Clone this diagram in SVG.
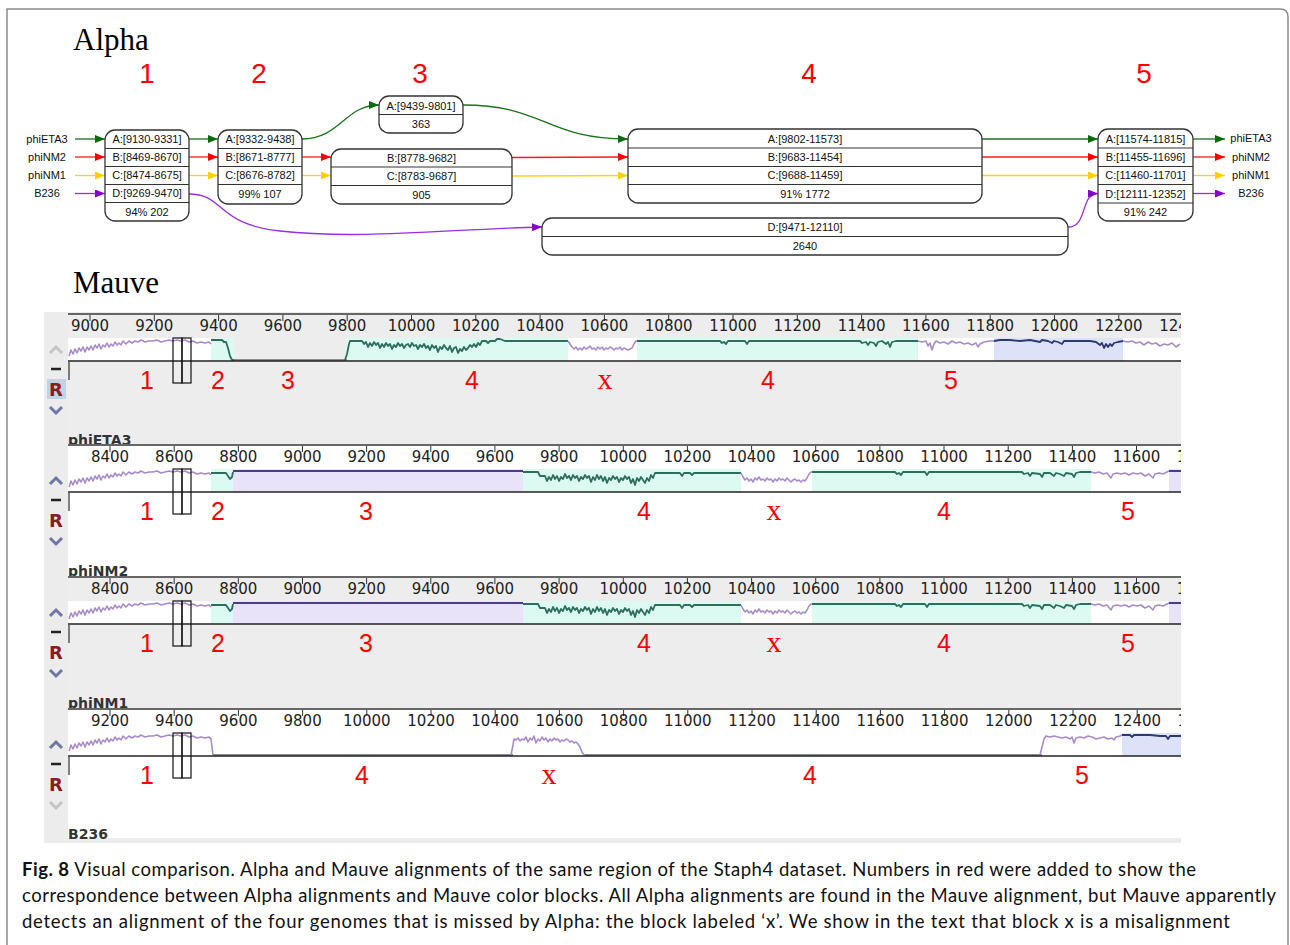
<svg xmlns="http://www.w3.org/2000/svg" xmlns:xlink="http://www.w3.org/1999/xlink" width="1290" height="945" viewBox="0 0 1290 945">
<style>
.nb{fill:#fff;stroke:#333;stroke-width:1.3}
.rl{stroke:#333;stroke-width:1}
.nt{font-family:"Liberation Sans",Arial,sans-serif;font-size:11px;text-anchor:middle;fill:#111}
.lb{font-family:"Liberation Sans",Arial,sans-serif;font-size:11px;text-anchor:middle;fill:#111}
.cg{stroke:#177317;stroke-width:1.3;fill:none}
.cr{stroke:#ff1a1a;stroke-width:1.3;fill:none}
.cy{stroke:#ffd21a;stroke-width:1.3;fill:none}
.cp{stroke:#9a2ee0;stroke-width:1.3;fill:none}
.ttl{font-family:"Liberation Serif","Times New Roman",serif;font-size:31px;fill:#000}
.rn{font-family:"Liberation Sans",Arial,sans-serif;font-size:28px;fill:#ff0000;text-anchor:middle}
.mn{font-family:"Liberation Sans",Arial,sans-serif;font-size:25px;fill:#ff0000;text-anchor:middle}
.mx{font-family:"Liberation Serif","Times New Roman",serif;font-size:30px;fill:#ff0000;text-anchor:middle}
.ru{font-family:"DejaVu Sans",sans-serif;font-size:15px;fill:#222;text-anchor:middle}
.tk{stroke:#333;stroke-width:1;fill:none}
.tl{stroke:#666;stroke-width:2}
.cl{stroke:#222;stroke-width:1.5}
.tp{fill:none;stroke:#a98bcb;stroke-width:1.6;stroke-linejoin:round}
.tg{fill:none;stroke:#2e6e5e;stroke-width:1.8;stroke-linejoin:round}
.tn{fill:none;stroke:#2c3a72;stroke-width:1.8;stroke-linejoin:round}
.tv{fill:none;stroke:#4a3d8a;stroke-width:2}
.gap{stroke:#8c8c8c;stroke-width:2}
.bx{fill:none;stroke:#111;stroke-width:1.2}
.cyan{fill:#dcfaf2}
.lav{fill:#e9e3fa}
.blu{fill:#dde2f8}
.wht{fill:#fff}
.chv{fill:none;stroke:#7076a3;stroke-width:3;stroke-linejoin:miter}
.chd{fill:none;stroke:#c4c4c4;stroke-width:3}
.dash{stroke:#222;stroke-width:2.5}
.R{font-family:"DejaVu Sans",sans-serif;font-weight:bold;font-size:18px;fill:#8b1c1c;text-anchor:middle}
.nm{font-family:"DejaVu Sans",sans-serif;font-weight:bold;font-size:14px;fill:#333}
.cap{font-family:Lato,"Open Sans",sans-serif;font-size:18.5px;fill:#111}
</style>
<defs>
<marker id="ag" viewBox="0 0 10 8" refX="10" refY="4" markerWidth="10" markerHeight="8" markerUnits="userSpaceOnUse" orient="auto"><path d="M0,0L10,4L0,8z" fill="#0b6b0b"/></marker>
<marker id="ar" viewBox="0 0 10 8" refX="10" refY="4" markerWidth="10" markerHeight="8" markerUnits="userSpaceOnUse" orient="auto"><path d="M0,0L10,4L0,8z" fill="#ff0000"/></marker>
<marker id="ay" viewBox="0 0 10 8" refX="10" refY="4" markerWidth="10" markerHeight="8" markerUnits="userSpaceOnUse" orient="auto"><path d="M0,0L10,4L0,8z" fill="#ffd000"/></marker>
<marker id="ap" viewBox="0 0 10 8" refX="10" refY="4" markerWidth="10" markerHeight="8" markerUnits="userSpaceOnUse" orient="auto"><path d="M0,0L10,4L0,8z" fill="#8800cc"/></marker>
<clipPath id="pc"><rect x="44" y="312" width="1137" height="531"/></clipPath>
<polyline id="p1" points="69,42 71,36 73,40 75,35 77,39 79,34 81,37 83,33 85,38 87,33 89,36 91,32 93,36 95,31 97,34 99,30 101,35 103,31 105,33 107,29 109,33 111,30 113,32 115,28 117,31 119,29 121,31 123,27 126,30 129,27 132,29 135,27 138,28 141,26 145,28 149,27 153,27 157,26 161,28 165,27 169,26 173,27 177,26 181,27 185,26 189,28 193,27 197,29 201,28 205,29 209,28 211,30"/>
<g id="leftcol">
<rect x="44" y="0" width="24" height="132" fill="#ececec"/>
<line x1="51" y1="55" x2="61" y2="55" class="dash"/>
</g>
<g id="boxes">
<rect x="173" y="24" width="9" height="45" class="bx"/>
<rect x="182" y="24" width="9" height="45" class="bx"/>
</g>
<g id="nmContent">
<use xlink:href="#leftcol"/>
<polyline points="50,39 56,33 62,39" class="chv"/>
<polyline points="50,93 56,99 62,93" class="chv"/>
<text x="56" y="82" class="R">R</text>
<path class="tk" d="M110,0v7M174.2,0v7M238.3,0v7M302.5,0v7M366.6,0v7M430.8,0v7M494.9,0v7M559.1,0v7M623.3,0v7M687.4,0v7M751.6,0v7M815.7,0v7M879.9,0v7M944,0v7M1008.2,0v7M1072.4,0v7M1136.5,0v7"/>
<g class="ru">
<text x="110" y="17">8400</text><text x="174.2" y="17">8600</text><text x="238.3" y="17">8800</text><text x="302.5" y="17">9000</text><text x="366.6" y="17">9200</text><text x="430.8" y="17">9400</text><text x="494.9" y="17">9600</text><text x="559.1" y="17">9800</text><text x="623.3" y="17">10000</text><text x="687.4" y="17">10200</text><text x="751.6" y="17">10400</text><text x="815.7" y="17">10600</text><text x="879.9" y="17">10800</text><text x="944" y="17">11000</text><text x="1008.2" y="17">11200</text><text x="1072.4" y="17">11400</text><text x="1136.5" y="17">11600</text><text x="1200.7" y="17">11800</text>
</g>
<rect x="68" y="24" width="143" height="23" class="wht"/>
<rect x="211" y="24" width="22" height="23" class="cyan"/>
<rect x="233" y="24" width="290" height="23" class="lav"/>
<rect x="523" y="24" width="218" height="23" class="cyan"/>
<rect x="741" y="24" width="71" height="23" class="wht"/>
<rect x="812" y="24" width="279" height="23" class="cyan"/>
<rect x="1091" y="24" width="78" height="23" class="wht"/>
<rect x="1169" y="24" width="12" height="23" class="lav"/>
<use xlink:href="#p1" class="tp"/>
<polyline class="tg" points="211,28 226,28 228,31 230,34 232,32 233,27"/>
<line x1="233" y1="26" x2="523" y2="26" class="tv"/>
<polyline class="tg" points="523,27 538,27 540,31 545,31 547,36 549,32 551,35 553,30 555,34 557,31 559,36 561,32 563,34 565,29 567,33 569,31 571,35 573,30 575,33 577,31 579,36 581,32 583,34 585,30 587,33 589,31 591,37 593,32 595,35 597,30 599,34 601,31 603,36 605,32 607,38 609,33 611,35 613,31 615,34 617,32 619,37 621,33 623,35 625,31 627,34 629,32 631,38 633,34 635,40 637,33 639,36 641,32 643,35 645,38 647,33 649,36 651,30 653,33 655,28 680,28 682,31 684,28 690,28 692,30 694,28 741,28"/>
<polyline class="tp" points="741,28 743,32 745,35 747,33 749,36 751,34 753,37 755,33 757,35 759,32 761,35 763,34 765,36 767,33 769,35 771,34 773,37 775,34 777,36 779,33 781,35 783,34 785,36 787,33 789,35 791,37 793,35 795,34 797,36 799,35 801,37 803,35 805,36 807,33 809,29 811,27 812,27"/>
<polyline class="tg" points="812,27 895,27 897,29 899,28 901,30 903,27 925,27 927,30 929,27 1022,27 1024,29 1028,28 1030,31 1032,28 1040,29 1042,32 1044,28 1050,28 1054,31 1056,28 1060,29 1064,31 1066,28 1072,29 1074,32 1076,28 1080,27 1091,27"/>
<polyline class="tp" points="1091,27 1095,28 1099,27 1103,29 1107,28 1111,33 1113,29 1117,28 1121,29 1125,28 1129,30 1133,28 1137,29 1141,28 1145,31 1149,29 1153,33 1155,29 1159,28 1163,29 1167,27 1169,26"/>
<line x1="1169" y1="26" x2="1181" y2="26" class="tv"/>
<line x1="68" y1="0" x2="1181" y2="0" class="tl"/>
<line x1="68" y1="47" x2="1181" y2="47" class="cl"/>
<line x1="69" y1="47" x2="69" y2="66" stroke="#555" stroke-width="1.5"/>
<use xlink:href="#boxes"/>
<text x="147" y="75" class="mn">1</text><text x="218" y="75" class="mn">2</text><text x="366" y="75" class="mn">3</text><text x="644" y="75" class="mn">4</text><text x="774" y="75" class="mx">x</text><text x="944" y="75" class="mn">4</text><text x="1128" y="75" class="mn">5</text>
</g>
</defs>

<rect x="0" y="0" width="1290" height="945" fill="#fff"/>
<path d="M7,945V9H1280Q1288,9 1288,17V945" fill="none" stroke="#8a8a8a" stroke-width="1.5"/>

<g id="alpha">
<text x="73" y="50" class="ttl">Alpha</text>
<text x="147" y="83" class="rn">1</text>
<text x="259" y="83" class="rn">2</text>
<text x="420" y="83" class="rn">3</text>
<text x="809" y="83" class="rn">4</text>
<text x="1144" y="83" class="rn">5</text>

<g id="labels-in">
<text x="47" y="143" class="lb">phiETA3</text>
<text x="47" y="161" class="lb">phiNM2</text>
<text x="47" y="179" class="lb">phiNM1</text>
<text x="47" y="197" class="lb">B236</text>
</g>
<g id="labels-out">
<text x="1251" y="142" class="lb">phiETA3</text>
<text x="1251" y="161" class="lb">phiNM2</text>
<text x="1251" y="179" class="lb">phiNM1</text>
<text x="1251" y="197" class="lb">B236</text>
</g>

<g id="connectors">
<path class="cg" d="M75,139H105" marker-end="url(#ag)"/>
<path class="cr" d="M75,157H105" marker-end="url(#ar)"/>
<path class="cy" d="M75,175.5H105" marker-end="url(#ay)"/>
<path class="cp" d="M75,193.5H105" marker-end="url(#ap)"/>
<path class="cg" d="M189,139H218" marker-end="url(#ag)"/>
<path class="cr" d="M189,157H218" marker-end="url(#ar)"/>
<path class="cy" d="M189,175.5H218" marker-end="url(#ay)"/>
<path class="cp" d="M189,194C225,194 215,224 280,231C360,240 450,229 542,227" marker-end="url(#ap)"/>
<path class="cg" d="M302,139C340,139 345,105 379,105" marker-end="url(#ag)"/>
<path class="cr" d="M302,157H331" marker-end="url(#ar)"/>
<path class="cy" d="M302,175.5H331" marker-end="url(#ay)"/>
<path class="cg" d="M463,105C545,105 545,139 628,139" marker-end="url(#ag)"/>
<path class="cr" d="M512,157.5L628,157" marker-end="url(#ar)"/>
<path class="cy" d="M512,176L628,175.5" marker-end="url(#ay)"/>
<path class="cg" d="M982,139H1098" marker-end="url(#ag)"/>
<path class="cr" d="M982,157H1098" marker-end="url(#ar)"/>
<path class="cy" d="M982,175.5H1098" marker-end="url(#ay)"/>
<path class="cp" d="M1068,227C1088,227 1080,193.5 1098,193.5" marker-end="url(#ap)"/>
<path class="cg" d="M1193,139H1225" marker-end="url(#ag)"/>
<path class="cr" d="M1193,157H1225" marker-end="url(#ar)"/>
<path class="cy" d="M1193,175.5H1225" marker-end="url(#ay)"/>
<path class="cp" d="M1193,193.5H1225" marker-end="url(#ap)"/>
</g>

<g id="node-1">
<rect x="105" y="130" width="84" height="91" rx="10" class="nb"/>
<path class="rl" d="M105,148.5H189M105,166.5H189M105,184.5H189M105,202.5H189"/>
<text x="147" y="143" class="nt">A:[9130-9331]</text>
<text x="147" y="161" class="nt">B:[8469-8670]</text>
<text x="147" y="179" class="nt">C:[8474-8675]</text>
<text x="147" y="197" class="nt">D:[9269-9470]</text>
<text x="147" y="216" class="nt">94% 202</text>
</g>
<g id="node-2">
<rect x="218" y="130" width="84" height="74" rx="10" class="nb"/>
<path class="rl" d="M218,148.5H302M218,166.5H302M218,184.5H302"/>
<text x="260" y="143" class="nt">A:[9332-9438]</text>
<text x="260" y="161" class="nt">B:[8671-8777]</text>
<text x="260" y="179" class="nt">C:[8676-8782]</text>
<text x="260" y="198" class="nt">99% 107</text>
</g>
<g id="node-3">
<rect x="379" y="96" width="84" height="37" rx="10" class="nb"/>
<path class="rl" d="M379,114.5H463"/>
<text x="421" y="109.5" class="nt">A:[9439-9801]</text>
<text x="421" y="128" class="nt">363</text>
</g>
<g id="node-3bc">
<rect x="331" y="149" width="181" height="55" rx="10" class="nb"/>
<path class="rl" d="M331,167H512M331,185.5H512"/>
<text x="421.5" y="162" class="nt">B:[8778-9682]</text>
<text x="421.5" y="180" class="nt">C:[8783-9687]</text>
<text x="421.5" y="199" class="nt">905</text>
</g>
<g id="node-4">
<rect x="628" y="129" width="354" height="74" rx="10" class="nb"/>
<path class="rl" d="M628,148H982M628,166.5H982M628,184.5H982"/>
<text x="805" y="142.5" class="nt">A:[9802-11573]</text>
<text x="805" y="161" class="nt">B:[9683-11454]</text>
<text x="805" y="179" class="nt">C:[9688-11459]</text>
<text x="805" y="197.5" class="nt">91% 1772</text>
</g>
<g id="node-4d">
<rect x="542" y="218" width="526" height="37" rx="10" class="nb"/>
<path class="rl" d="M542,236.5H1068"/>
<text x="805" y="231" class="nt">D:[9471-12110]</text>
<text x="805" y="249.5" class="nt">2640</text>
</g>
<g id="node-5">
<rect x="1098" y="129" width="95" height="92" rx="10" class="nb"/>
<path class="rl" d="M1098,148H1193M1098,166.5H1193M1098,184.5H1193M1098,203H1193"/>
<text x="1145.5" y="142.5" class="nt">A:[11574-11815]</text>
<text x="1145.5" y="161" class="nt">B:[11455-11696]</text>
<text x="1145.5" y="179" class="nt">C:[11460-11701]</text>
<text x="1145.5" y="197.5" class="nt">D:[12111-12352]</text>
<text x="1145.5" y="216" class="nt">91% 242</text>
</g>
</g>

<g id="mauve">
<text x="73" y="293" class="ttl">Mauve</text>
<g clip-path="url(#pc)">
<rect x="44" y="312" width="1137" height="531" fill="#ececec"/>

<g id="track-phiETA3" transform="translate(0,314)">
<rect x="44" y="0" width="1137" height="132" fill="#ededed"/>
<use xlink:href="#leftcol"/>
<rect x="47" y="65" width="19" height="20" fill="#c3d3e6"/>
<polyline points="50,39 56,33 62,39" class="chd"/>
<polyline points="50,93 56,99 62,93" class="chv"/>
<text x="56" y="82" class="R">R</text>
<path class="tk" d="M90,0v7M154.3,0v7M218.6,0v7M282.9,0v7M347.2,0v7M411.5,0v7M475.8,0v7M540.1,0v7M604.4,0v7M668.7,0v7M733,0v7M797.3,0v7M861.6,0v7M925.9,0v7M990.2,0v7M1054.5,0v7M1118.8,0v7"/>
<g class="ru">
<text x="90" y="17">9000</text><text x="154.3" y="17">9200</text><text x="218.6" y="17">9400</text><text x="282.9" y="17">9600</text><text x="347.2" y="17">9800</text><text x="411.5" y="17">10000</text><text x="475.8" y="17">10200</text><text x="540.1" y="17">10400</text><text x="604.4" y="17">10600</text><text x="668.7" y="17">10800</text><text x="733" y="17">11000</text><text x="797.3" y="17">11200</text><text x="861.6" y="17">11400</text><text x="925.9" y="17">11600</text><text x="990.2" y="17">11800</text><text x="1054.5" y="17">12000</text><text x="1118.8" y="17">12200</text><text x="1183.1" y="17">12400</text>
</g>
<rect x="68" y="24" width="143" height="23" class="wht"/>
<rect x="211" y="24" width="23" height="23" class="cyan"/>
<rect x="347" y="24" width="221" height="23" class="cyan"/>
<rect x="568" y="24" width="69" height="23" class="wht"/>
<rect x="637" y="24" width="281" height="23" class="cyan"/>
<rect x="918" y="24" width="76" height="23" class="wht"/>
<rect x="994" y="24" width="129" height="23" class="blu"/>
<rect x="1123" y="24" width="58" height="23" class="wht"/>
<use xlink:href="#p1" class="tp"/>
<polyline class="tg" points="211,26 222,26 224,28 226,28 228,34 230,42 232,46 234,46"/>
<line x1="234" y1="46" x2="347" y2="46" class="gap"/>
<polyline class="tg" points="345,46 347,40 349,30 350,27 362,27 364,30 366,28 368,33 370,29 372,32 374,28 376,31 378,29 380,34 382,30 384,33 386,29 388,32 390,30 392,35 394,31 396,33 398,29 400,32 402,30 404,34 406,31 408,30 410,33 412,29 414,32 416,31 418,35 420,31 422,33 424,30 426,34 428,32 430,36 432,31 434,34 436,32 438,38 440,33 442,35 444,31 446,34 448,36 450,32 452,38 454,34 456,33 458,39 460,35 462,37 464,33 466,36 468,34 470,31 472,33 474,30 476,33 478,29 480,31 482,27 486,27 488,29 490,27 495,27 497,25 500,25 505,27 568,27"/>
<polyline class="tp" points="568,27 570,30 572,33 574,35 576,33 578,36 580,34 582,36 584,33 586,35 588,34 590,32 592,35 594,34 596,36 598,33 600,35 602,33 604,36 606,34 608,35 610,33 612,34 614,36 616,34 618,35 620,33 622,36 624,34 626,35 628,36 630,35 632,34 634,30 636,27 637,27"/>
<polyline class="tg" points="637,27 720,27 722,29 724,28 726,30 728,27 745,27 747,30 749,27 860,27 862,29 866,28 868,31 870,28 874,29 876,32 878,28 882,27 886,30 888,28 890,33 892,28 896,27 918,27"/>
<polyline class="tp" points="918,27 922,28 926,27 928,32 930,29 932,36 934,30 936,27 940,29 944,28 948,30 952,27 956,29 960,28 964,30 968,29 972,31 976,29 978,33 980,30 984,28 990,27 994,27"/>
<polyline class="tn" points="994,27 1000,26 1010,26 1020,27 1030,26 1040,28 1042,26 1048,27 1052,29 1054,27 1058,28 1062,30 1064,27 1070,27 1090,27 1096,28 1100,31 1102,29 1104,34 1106,30 1108,33 1110,30 1112,32 1114,29 1118,28 1123,27"/>
<polyline class="tp" points="1123,27 1128,28 1132,27 1136,29 1140,28 1144,31 1148,28 1152,30 1156,29 1160,32 1164,30 1168,31 1172,29 1176,33 1180,30"/>
<line x1="68" y1="0" x2="1181" y2="0" class="tl"/>
<line x1="68" y1="47" x2="1181" y2="47" class="cl"/>
<line x1="69" y1="47" x2="69" y2="66" stroke="#555" stroke-width="1.5"/>
<use xlink:href="#boxes"/>
<text x="147" y="75" class="mn">1</text><text x="218" y="75" class="mn">2</text><text x="288" y="75" class="mn">3</text><text x="472" y="75" class="mn">4</text><text x="605" y="75" class="mx">x</text><text x="768" y="75" class="mn">4</text><text x="951" y="75" class="mn">5</text>
<text x="68" y="131" class="nm">phiETA3</text>
</g>

<g id="track-phiNM2" transform="translate(0,445)">
<rect x="44" y="0" width="1137" height="132" fill="#ffffff"/>
<use xlink:href="#nmContent"/>
<text x="68" y="131" class="nm">phiNM2</text>
</g>

<g id="track-phiNM1" transform="translate(0,577)">
<rect x="44" y="0" width="1137" height="132" fill="#ededed"/>
<use xlink:href="#nmContent"/>
<text x="68" y="131" class="nm">phiNM1</text>
</g>

<g id="track-B236" transform="translate(0,709)">
<rect x="44" y="0" width="1137" height="129" fill="#ffffff"/>
<use xlink:href="#leftcol"/>
<polyline points="50,39 56,33 62,39" class="chv"/>
<polyline points="50,93 56,99 62,93" class="chd"/>
<text x="56" y="82" class="R">R</text>
<path class="tk" d="M110,0v7M174.2,0v7M238.4,0v7M302.6,0v7M366.8,0v7M431,0v7M495.2,0v7M559.4,0v7M623.6,0v7M687.8,0v7M752,0v7M816.2,0v7M880.4,0v7M944.6,0v7M1008.8,0v7M1073,0v7M1137.2,0v7"/>
<g class="ru">
<text x="110" y="17">9200</text><text x="174.2" y="17">9400</text><text x="238.4" y="17">9600</text><text x="302.6" y="17">9800</text><text x="366.8" y="17">10000</text><text x="431" y="17">10200</text><text x="495.2" y="17">10400</text><text x="559.4" y="17">10600</text><text x="623.6" y="17">10800</text><text x="687.8" y="17">11000</text><text x="752" y="17">11200</text><text x="816.2" y="17">11400</text><text x="880.4" y="17">11600</text><text x="944.6" y="17">11800</text><text x="1008.8" y="17">12000</text><text x="1073" y="17">12200</text><text x="1137.2" y="17">12400</text><text x="1201.4" y="17">12600</text>
</g>
<rect x="1122" y="24" width="59" height="23" class="blu"/>
<use xlink:href="#p1" class="tp"/>
<polyline class="tp" points="209,28 211,30 212,38 213,46"/>
<line x1="213" y1="46" x2="513" y2="46" class="gap"/>
<polyline class="tp" points="511,46 513,36 514,30 516,31 518,29 520,32 522,30 524,31 526,28 528,33 530,29 532,31 534,27 536,34 538,30 540,32 542,28 544,31 546,29 548,33 550,30 552,32 554,29 556,31 558,30 560,33 562,31 564,32 566,30 568,31 570,33 572,32 574,34 576,33 578,35 580,38 582,43 584,46 586,46"/>
<line x1="585" y1="46" x2="1042" y2="46" class="gap"/>
<polyline class="tp" points="1040,46 1042,38 1044,30 1046,27 1050,28 1054,27 1058,28 1062,29 1066,28 1070,30 1072,28 1074,34 1076,29 1080,28 1084,29 1088,27 1092,28 1096,30 1100,29 1104,28 1108,30 1112,29 1114,31 1116,28 1120,27 1122,26"/>
<polyline class="tn" points="1122,26 1130,26 1132,28 1134,26 1150,26 1160,27 1166,27 1168,30 1170,27 1181,27"/>
<line x1="68" y1="0" x2="1181" y2="0" class="tl"/>
<line x1="68" y1="47" x2="1181" y2="47" class="cl"/>
<line x1="69" y1="47" x2="69" y2="66" stroke="#555" stroke-width="1.5"/>
<use xlink:href="#boxes"/>
<text x="147" y="75" class="mn">1</text><text x="362" y="75" class="mn">4</text><text x="549" y="75" class="mx">x</text><text x="810" y="75" class="mn">4</text><text x="1082" y="75" class="mn">5</text>
<text x="68" y="130" class="nm">B236</text>
</g>
</g>
</g>

<g id="caption">
<text x="22" y="876" class="cap" textLength="1174" lengthAdjust="spacing"><tspan font-weight="bold">Fig. 8</tspan> Visual comparison. Alpha and Mauve alignments of the same region of the Staph4 dataset. Numbers in red were added to show the</text>
<text x="22" y="902" class="cap" textLength="1254" lengthAdjust="spacing">correspondence between Alpha alignments and Mauve color blocks. All Alpha alignments are found in the Mauve alignment, but Mauve apparently</text>
<text x="22" y="928" class="cap" textLength="1208" lengthAdjust="spacing">detects an alignment of the four genomes that is missed by Alpha: the block labeled ‘x’. We show in the text that block x is a misalignment</text>
</g>
</svg>
